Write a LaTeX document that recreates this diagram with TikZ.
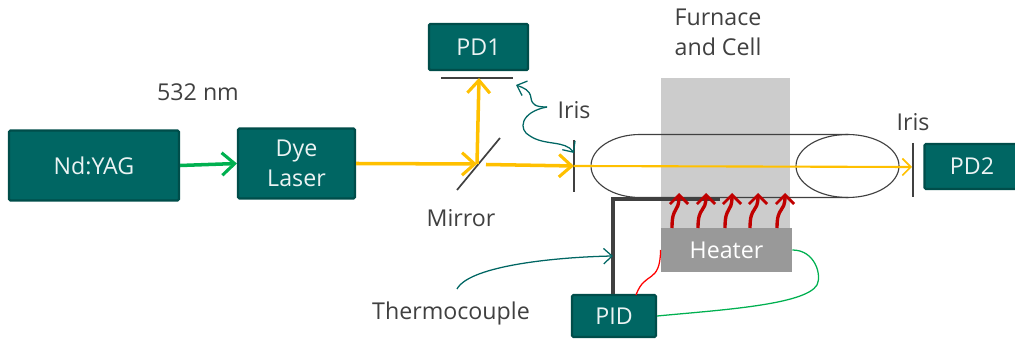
\documentclass[tikz,border=0pt]{standalone}
\usepackage{fontspec}
\setmainfont{Open Sans}
\usetikzlibrary{arrows.meta}
\definecolor{DeepTeal}{RGB}{0, 102, 99}
\definecolor{DarkTeal}{RGB}{0, 77, 74}
\definecolor{BeamGold}{RGB}{255, 192, 0}
\definecolor{PumpGreen}{RGB}{0, 176, 80}
\definecolor{HeatRed}{RGB}{192, 0, 0}
\definecolor{InkGray}{RGB}{64, 64, 64}

\begin{document}
\begin{tikzpicture}[
                x=0.025cm, y=-0.025cm,
                block/.style={draw=DarkTeal, line width=1.6pt, fill=DeepTeal, rounded corners=1pt, text=white!92!DeepTeal, font=\fontsize{16.5}{21.6}\selectfont, align=center, inner sep=0pt},
                label/.style={text=InkGray, font=\fontsize{16.5}{21.5}\selectfont, align=center, inner sep=0pt},
                beam/.style={-{Straight Barb[length=9pt, width=16pt, line width=2.2pt]}, line width=2.5pt, BeamGold},
                pump/.style={-{Straight Barb[length=9pt, width=16pt, line width=2.2pt]}, line width=2.5pt, PumpGreen},
                heat/.style={-{Straight Barb[length=6.5pt, width=13pt, line width=1.9pt]}, line width=2.4pt, HeatRed},
                plate/.style={line width=1.2pt, InkGray},
                note/.style={-{Straight Barb[length=6pt, width=11pt]}, line width=0.9pt, DeepTeal}
            ]
                \useasboundingbox (0, 0) rectangle (1015, 339);

                % Furnace and Heater
                \fill[black!20] (661, 78) rectangle (790, 228);
                \node[fill=black!40, minimum width=3.28cm, minimum height=1.1cm, text=white, font=\fontsize{16.5}{21.6}\selectfont, inner sep=0pt] (heater) at (726.5, 250) {Heater};

                % Cell
                \draw[line width=0.8pt, InkGray] (848, 134.5) -- (640, 134.5) arc[start angle=270, end angle=90, x radius=49, y radius=31.5] -- (848, 197.5);
                \draw[line width=0.8pt, InkGray] (847.5, 166) ellipse [x radius=51.5, y radius=31.5];

                % Main Blocks
                \node[block, minimum width=4.25cm, minimum height=1.75cm] (yag) at (94, 165.5) {Nd:YAG};
                \node[block, minimum width=2.92cm, minimum height=1.75cm] (dye) at (296.5, 163.5) {Dye\\Laser};
                \node[block, minimum width=2.48cm, minimum height=1.15cm] (pd1) at (478.5, 47) {PD1};
                \node[block, minimum width=2.38cm, minimum height=1.12cm] (pd2) at (972, 166.5) {PD2};
                \node[block, minimum width=2.1cm, minimum height=1.05cm] (pid) at (614, 316) {PID};

                % Labels
                \node[label] (wave) at (198, 92) {532 nm};
                \node[label] (furnace) at (718, 32) {Furnace\\and Cell};
                \node[label] (iris1) at (574, 110) {Iris};
                \node[label] (iris2) at (913, 122) {Iris};
                \node[label] (mirror) at (461, 218) {Mirror};
                \node[label] (thermo) at (451, 313) {Thermocouple};

                % Optics
                \coordinate (pd1a) at (441, 78);
                \coordinate (pd1b) at (513, 78);
                \coordinate (pd1c) at (479, 78);
                \coordinate (mirra) at (457, 190);
                \coordinate (mirrb) at (500, 138);
                \coordinate (mirrc) at (477, 164);
                \coordinate (mirrd) at (486, 164.5);
                \coordinate (ira) at (574, 140);
                \coordinate (irb) at (574, 192);
                \coordinate (irc) at (574, 166);
                \coordinate (ird) at (913, 143);
                \coordinate (ire) at (913, 197);
                \coordinate (irf) at (912, 167);
                \draw[plate] (pd1a) -- (pd1b);
                \draw[plate] (mirra) -- (mirrb);
                \draw[plate] (ira) -- (irb);
                \draw[plate] (ird) -- (ire);

                % Beams
                \draw[pump] (yag.east) -- (dye.west);
                \draw[beam] (dye.east) -- (mirrc);
                \draw[beam] (mirrc) -- (pd1c);
                \draw[beam] (mirrd) -- (irc);
                \draw[-{Straight Barb[length=6pt, width=12pt, line width=1.2pt]}, line width=1.5pt, BeamGold] (irc) -- (irf);

                % Thermocouple
                \coordinate (tcend) at (720, 199);
                \coordinate (tctap) at (613, 256);
                \draw[line width=3.2pt, black!75] (pid.north -| tctap) -- (613, 199) -- (tcend);

                % Heat arrows
                \foreach \xa/\xb in {672/679, 698/706, 725/732, 750/758, 777/785}
                    \draw[heat] (\xa, 228) .. controls (\xa, 205) and (\xb, 214) .. (\xb, 193);

                % Wires
                \draw[line width=0.9pt, red] (heater.west) .. controls (660, 285) and (645, 270) .. (636, 295);
                \draw[line width=0.9pt, PumpGreen] (heater.east) .. controls (815, 250) and (822, 275) .. (817, 285) .. controls (805, 305) and (720, 310) .. (pid.east);

                % Notes
                \coordinate (irisroot) at (547, 107);
                \coordinate (pd1note) at (516, 85);
                \coordinate (irisnote) at (574, 153);
                \draw[note] (irisroot) .. controls (536, 107) and (532, 105) .. (531, 98) .. controls (530, 90) and (524, 88) .. (pd1note);
                \draw[note] (irisroot) .. controls (520, 112) and (518, 130) .. (530, 136) .. controls (545, 146) and (565, 140) .. (irisnote);
                \draw[note] (457, 289) .. controls (470, 265) and (560, 257) .. (tctap);
            \end{tikzpicture}
\end{document}
